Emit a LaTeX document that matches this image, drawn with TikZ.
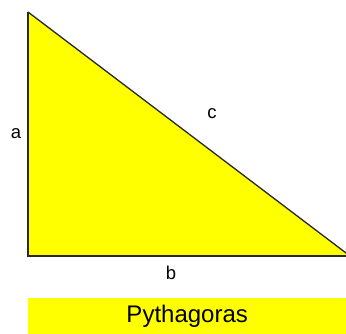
\documentclass[tikz,border=0pt]{standalone}
\usepackage{fontspec}
\setmainfont{Liberation Sans}
\definecolor{tri}{RGB}{255,255,0}
\definecolor{edge}{RGB}{40,40,40}
\begin{document}
\begin{tikzpicture}[x=1pt,y=-1pt,
  lbl/.style={inner sep=0pt,font=\fontsize{18.5}{18.5}\selectfont},
  title/.style={fill=tri,minimum width=318pt,minimum height=36pt,inner sep=0pt,anchor=north west,font=\fontsize{24}{24}\selectfont}]
\useasboundingbox (0,0) rectangle (346,334);
\clip (0,0) rectangle (346,334);
\coordinate (A) at (28,12);
\coordinate (B) at (28,256);
\coordinate (C) at (350,256);
\fill[tri] (A) -- (B) -- (C) -- cycle;
\draw[edge,line width=2pt] (A) -- (B) -- (C);
\draw[edge,line width=1.3pt] (A) -- (C);
\node[lbl] (la) at (16,134) {a};
\node[lbl] (lb) at (171,273) {b};
\node[lbl] (lc) at (212,114) {c};
\node[title] (t) at (28,298) {Pythagoras};
\end{tikzpicture}
\end{document}
